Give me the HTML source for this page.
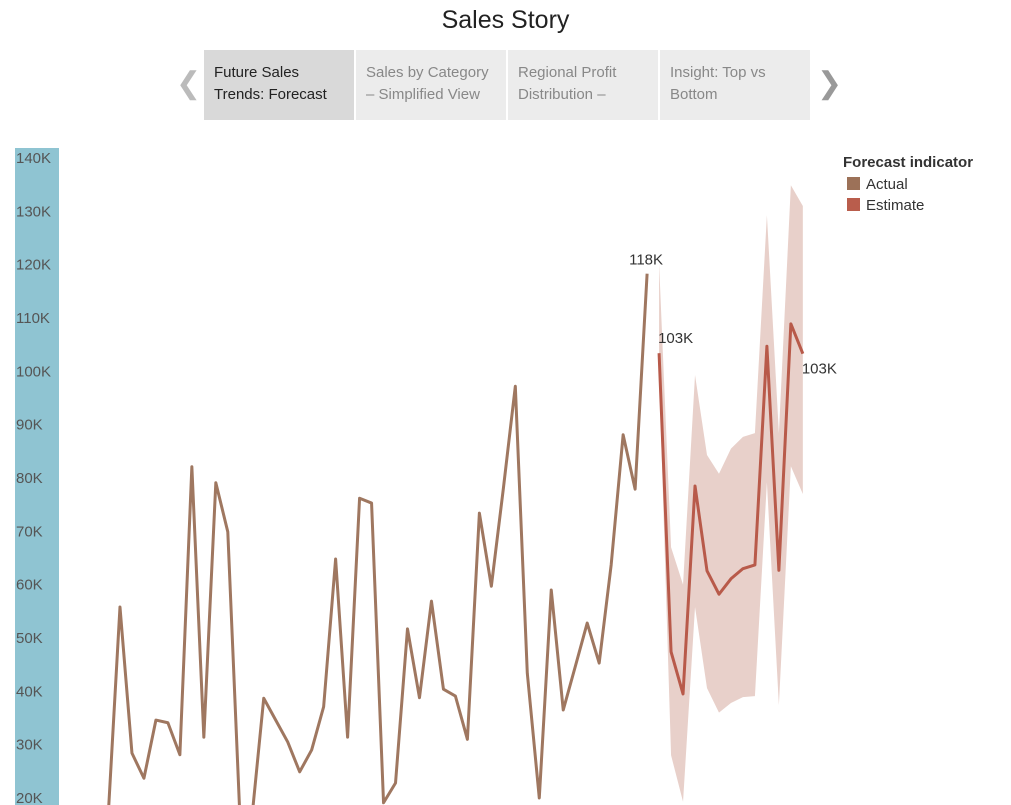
<!DOCTYPE html>
<html><head><meta charset="utf-8"><style>
body{margin:0;width:1011px;height:805px;overflow:hidden;background:#fff;font-family:"Liberation Sans",sans-serif;position:relative}
.title{position:absolute;top:6px;left:0;width:1011px;text-align:center;font-size:25px;color:#222}
.tab{position:absolute;top:50px;width:150px;height:70px;background:#ececec;box-sizing:border-box;padding:12px 10px;font-size:15px;line-height:22px;color:#888}
.tab.active{background:#d9d9d9;color:#222}
.arrow{position:absolute;top:66px;font-size:30px;color:#bbb}
.axisband{position:absolute;left:15px;top:148px;width:44px;height:657px;background:#8fc4d2}
.leg{position:absolute;left:843px;font-size:15px;color:#333}
.sw{position:absolute;left:847px;width:13px;height:13px}
</style></head><body>
<div class="title">Sales Story</div>
<div class="arrow" style="left:176px">&#x276E;</div>
<div class="tab active" style="left:204px">Future Sales<br>Trends: Forecast</div>
<div class="tab" style="left:356px">Sales by Category<br>– Simplified View</div>
<div class="tab" style="left:508px">Regional Profit<br>Distribution –</div>
<div class="tab" style="left:660px">Insight: Top vs<br>Bottom</div>
<div class="arrow" style="left:817px;color:#999">&#x276F;</div>
<div class="axisband"></div>
<div class="leg" style="top:154px;font-weight:bold">Forecast indicator</div>
<div class="sw" style="top:177px;background:#9c7158"></div>
<div class="leg" style="left:866px;top:176px">Actual</div>
<div class="sw" style="top:198px;background:#b95d4c"></div>
<div class="leg" style="left:866px;top:197px">Estimate</div>
<svg id="chart" width="1011" height="805" style="position:absolute;left:0;top:0"></svg>
<script>
const ticks=[140,130,120,110,100,90,80,70,60,50,40,30,20];
const actual=[16,55.8,28.4,23.7,34.6,34.1,28.1,82.1,31.4,79.1,69.9,17,16,38.7,34.6,30.5,24.9,29,37.1,64.8,31.4,76.2,75.3,19.1,22.8,51.7,38.8,56.9,40.4,39.1,31,73.4,59.7,78,97.2,43.4,20,59,36.5,44.6,52.8,45.3,63.7,88.1,77.9,118.3];
const estimate=[103.4,47.4,39.5,78.5,62.6,58.2,61.1,63,63.7,104.7,62.7,108.9,103.3];
const upper=[120.3,67,60,99.3,84.3,80.8,85.5,87.7,88.4,129.3,88.4,134.9,131];
const lower=[100,28,19.3,55.8,40.6,36,37.8,38.9,39.1,79.2,37.4,82.2,77];
const NS='http://www.w3.org/2000/svg';
const svg=document.getElementById('chart');
const y=v=>158+(140-v)*5.333;
const x=i=>108+i*11.98;
const clip=document.createElementNS(NS,'clipPath');clip.setAttribute('id','pc');
const r=document.createElementNS(NS,'rect');r.setAttribute('x',60);r.setAttribute('y',140);r.setAttribute('width',900);r.setAttribute('height',665);clip.appendChild(r);svg.appendChild(clip);
ticks.forEach(t=>{const e=document.createElementNS(NS,'text');


e.setAttribute('x',16);e.setAttribute('y',y(t)+5);e.setAttribute('font-size','15');e.setAttribute('fill','#555');e.textContent=t+'K';svg.appendChild(e);});
const off=actual.length;
let bp=upper.map((v,i)=>x(off+i)+','+y(v)).concat(lower.map((v,i)=>x(off+i)+','+y(v)).reverse()).join(' ');
const band=document.createElementNS(NS,'polygon');


band.setAttribute('points',bp);band.setAttribute('fill','#e8d0ca');band.setAttribute('clip-path','url(#pc)');svg.appendChild(band);
function line(arr,o,col,name){const p=document.createElementNS(NS,'polyline');


p.setAttribute('points',arr.map((v,i)=>x(o+i)+','+y(v)).join(' '));p.setAttribute('fill','none');p.setAttribute('stroke',col);p.setAttribute('stroke-width','3');p.setAttribute('stroke-linejoin','round');p.setAttribute('clip-path','url(#pc)');svg.appendChild(p);}
line(actual,0,'#9f7760','actual-line');
line(estimate,off,'#b85a4a','estimate-line');
function lbl(t,xx,yy,name){const e=document.createElementNS(NS,'text');


e.setAttribute('x',xx);e.setAttribute('y',yy);e.setAttribute('font-size','15');e.setAttribute('fill','#333');e.textContent=t;svg.appendChild(e);}
lbl(Math.round(actual[off-1])+'K',x(off-1)-18,y(actual[off-1])-9,'label-last-actual');
lbl(Math.round(estimate[0])+'K',x(off)-1,y(estimate[0])-10,'label-first-estimate');
lbl(Math.round(estimate[estimate.length-1])+'K',x(off+estimate.length-1)-1,y(estimate[estimate.length-1])+20,'label-last-estimate');
</script>
</body></html>
